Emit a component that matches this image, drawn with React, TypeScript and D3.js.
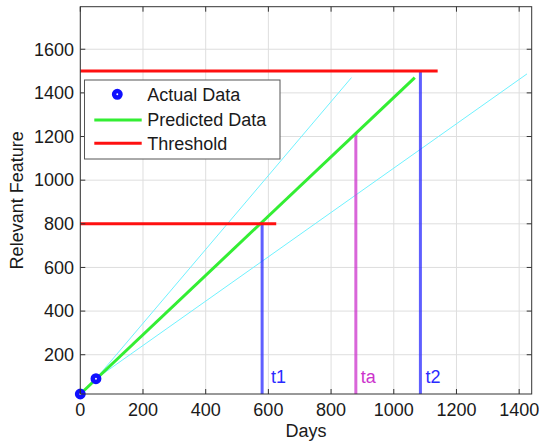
import * as d3 from "d3";
import { useRef, useEffect } from "react";

const actualDays = [0, 50];
const actualValues = [20, 90];

// predicted trend and its bounds
const predictedDays = [0, 1067];
const predictedValues = [20, 1470];
const upperDays = [50, 865];
const upperValues = [90, 1470];
const lowerDays = [50, 1425];
const lowerValues = [90, 1487];

// threshold levels and where their lines stop
const thresholdValues = [800, 1500];
const thresholdEnds = [625, 1140];

// event markers
const eventNames = ["t1", "ta", "t2"];
const eventDays = [580, 879, 1085];
const eventTops = [800, 1215, 1500];
const eventColors = ["#2a2aff", "#cc33cc", "#2a2aff"];

const xTicks = [0, 200, 400, 600, 800, 1000, 1200, 1400];
const yTicks = [200, 400, 600, 800, 1000, 1200, 1400, 1600];

const legendLabels = ["Actual Data", "Predicted Data", "Threshold"];

export default function App() {
  const svgRef = useRef(null);

  useEffect(() => {
    document.body.style.margin = "0";
    const svg = d3.select(svgRef.current);
    svg.selectAll("*").remove();

    const font = "'Liberation Sans', Arial, sans-serif";
    const left = 80.3, right = 531.7, top = 6.7, bottom = 394;

    const x = d3.scaleLinear().domain([0, 1440]).range([left, right]);
    const y = d3.scaleLinear().domain([20, 1795]).range([bottom, top]);

    const pairs = (xs, ys) => xs.map((d, i) => [d, ys[i]]);
    const line = d3.line().x(d => x(d[0])).y(d => y(d[1]));

    // white plot background
    svg.append("rect").attr("x", left).attr("y", top)
      .attr("width", right - left).attr("height", bottom - top).attr("fill", "white");

    // grid
    const grid = svg.append("g").attr("stroke", "#dedede").attr("stroke-width", 1);
    xTicks.forEach(t => grid.append("line")
      .attr("x1", x(t)).attr("x2", x(t)).attr("y1", top).attr("y2", bottom));
    yTicks.forEach(t => grid.append("line")
      .attr("x1", left).attr("x2", right).attr("y1", y(t)).attr("y2", y(t)));

    // bounds
    [pairs(upperDays, upperValues), pairs(lowerDays, lowerValues)].forEach(p => {
      svg.append("path").attr("d", line(p)).attr("fill", "none")
        .attr("stroke", "#6ff2ff").attr("stroke-width", 1);
    });

    // vertical event lines
    eventNames.forEach((n, i) => {
      svg.append("line")
        .attr("x1", x(eventDays[i])).attr("x2", x(eventDays[i]))
        .attr("y1", y(20)).attr("y2", y(eventTops[i]))
        .attr("stroke", eventColors[i]).attr("stroke-opacity", 0.75).attr("stroke-width", 3);
    });

    // predicted line
    svg.append("path").attr("d", line(pairs(predictedDays, predictedValues)))
      .attr("fill", "none").attr("stroke", "#33ee33").attr("stroke-width", 3);

    // thresholds
    thresholdValues.forEach((v, i) => {
      svg.append("line")
        .attr("x1", x(0)).attr("x2", x(thresholdEnds[i]))
        .attr("y1", y(v)).attr("y2", y(v))
        .attr("stroke", "#ff1010").attr("stroke-width", 3);
    });

    // event labels
    eventNames.forEach((n, i) => {
      svg.append("text")
        .attr("x", x(eventDays[i]) + (i === 0 ? 9 : 5)).attr("y", 383)
        .attr("font-family", font).attr("font-size", 18)
        .attr("fill", eventColors[i]).text(n);
    });

    // actual data markers
    actualDays.forEach((d, i) => {
      svg.append("circle").attr("cx", x(d)).attr("cy", y(actualValues[i])).attr("r", 3.2)
        .attr("fill", "white").attr("stroke", "#1010ff").attr("stroke-width", 4.5);
    });

    // frame and ticks
    svg.append("rect").attr("x", left).attr("y", top)
      .attr("width", right - left).attr("height", bottom - top)
      .attr("fill", "none").attr("stroke", "#333").attr("stroke-width", 1);
    const ticks = svg.append("g").attr("stroke", "#333").attr("stroke-width", 1);
    xTicks.forEach(t => {
      ticks.append("line").attr("x1", x(t)).attr("x2", x(t)).attr("y1", bottom).attr("y2", bottom - 5);
      ticks.append("line").attr("x1", x(t)).attr("x2", x(t)).attr("y1", top).attr("y2", top + 5);
    });
    yTicks.forEach(t => {
      ticks.append("line").attr("x1", left).attr("x2", left + 5).attr("y1", y(t)).attr("y2", y(t));
      ticks.append("line").attr("x1", right).attr("x2", right - 5).attr("y1", y(t)).attr("y2", y(t));
    });

    // tick labels
    xTicks.forEach(t => svg.append("text")
      .attr("x", x(t)).attr("y", 416).attr("text-anchor", "middle")
      .attr("font-family", font).attr("font-size", 18).attr("fill", "#1a1a1a").text(t));
    yTicks.forEach(t => svg.append("text")
      .attr("x", 74).attr("y", y(t)).attr("dy", "0.35em").attr("text-anchor", "end")
      .attr("font-family", font).attr("font-size", 18).attr("fill", "#1a1a1a").text(t));

    // axis titles
    svg.append("text").attr("x", (left + right) / 2).attr("y", 437)
      .attr("text-anchor", "middle").attr("font-family", font).attr("font-size", 18)
      .attr("fill", "#1a1a1a").text("Days");
    svg.append("text").attr("transform", `translate(23, ${(top + bottom) / 2}) rotate(-90)`)
      .attr("text-anchor", "middle").attr("font-family", font).attr("font-size", 18)
      .attr("fill", "#1a1a1a").text("Relevant Feature");

    // legend
    const lg = svg.append("g");
    lg.append("rect").attr("x", 84.5).attr("y", 80).attr("width", 195.5).attr("height", 79)
      .attr("fill", "white").attr("stroke", "#555").attr("stroke-width", 1);
    const rowY = [94.3, 120, 143.3];
    lg.append("circle").attr("cx", 117.3).attr("cy", rowY[0]).attr("r", 3.2)
      .attr("fill", "white").attr("stroke", "#1010ff").attr("stroke-width", 4.5);
    lg.append("line").attr("x1", 94.3).attr("x2", 141.7).attr("y1", rowY[1]).attr("y2", rowY[1])
      .attr("stroke", "#33ee33").attr("stroke-width", 3);
    lg.append("line").attr("x1", 94.3).attr("x2", 141.7).attr("y1", rowY[2]).attr("y2", rowY[2])
      .attr("stroke", "#ff1010").attr("stroke-width", 3);
    legendLabels.forEach((l, i) => lg.append("text")
      .attr("x", 147.3).attr("y", rowY[i]).attr("dy", "0.35em")
      .attr("font-family", font).attr("font-size", 18).attr("fill", "#1a1a1a").text(l));
  }, []);

  return (
    <svg ref={svgRef} width={539} height={444}
      style={{ position: "absolute", left: 0, top: 0, background: "white" }} />
  );
}
